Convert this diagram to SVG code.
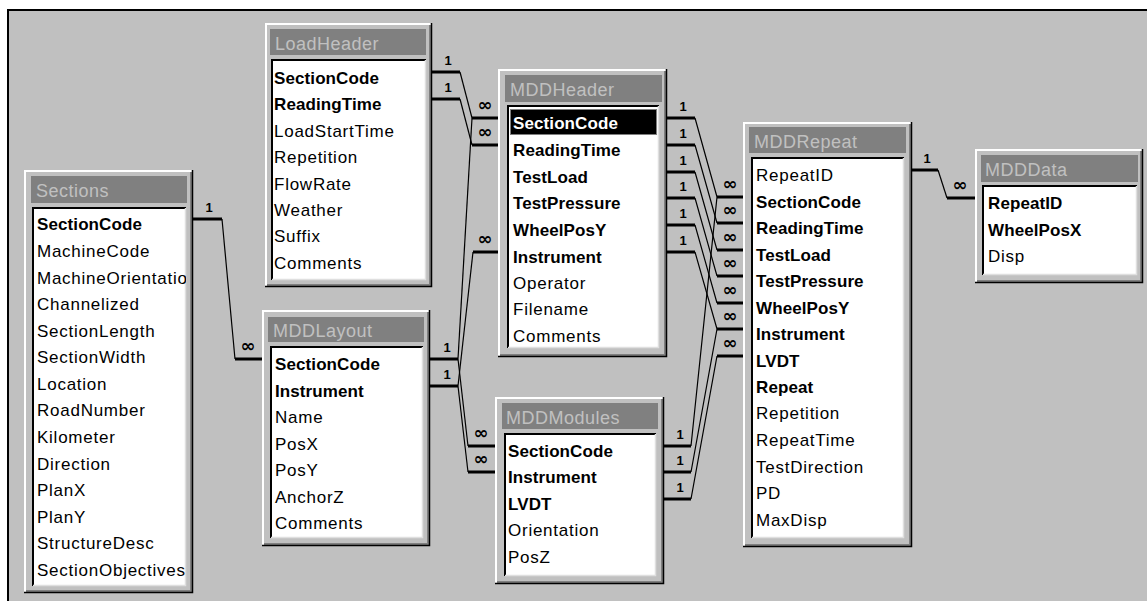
<svg xmlns="http://www.w3.org/2000/svg" width="1147" height="601" viewBox="0 0 1147 601">
<defs>
<style>
.bg{fill:#c0c0c0}
.fr{fill:#c0c0c0}
.hl{fill:none;stroke:#fff;stroke-width:2}
.sh{fill:none;stroke:#808080;stroke-width:2}
.dk{fill:none;stroke:#000;stroke-width:1.5}
.tb{fill:#808080}
.fb{fill:#fff}
.fbt{fill:none;stroke:#000;stroke-width:2}
.fbb{fill:none;stroke:#dfdfdf;stroke-width:1.5}
.ttl{font-family:"Liberation Sans",Arial,sans-serif;font-size:18px;fill:#c0c0c0;letter-spacing:0.5px}
.t{font-family:"Liberation Sans",Arial,sans-serif;font-size:17px;fill:#000;letter-spacing:0.75px}
.b{font-weight:bold;letter-spacing:0.1px}
.w{fill:#fff}
.one{font-family:"Liberation Sans",Arial,sans-serif;font-size:13px;font-weight:bold;text-anchor:middle;fill:#000}
.inf{font-family:"DejaVu Sans",sans-serif;font-size:18px;font-weight:bold;text-anchor:middle;fill:#000}
.stub{fill:none;stroke:#000;stroke-width:3}
.ln{fill:none;stroke:#000;stroke-width:1.2}
</style>
<clipPath id="clipSections"><rect x="33" y="208" width="153" height="378"/></clipPath>
</defs>
<rect x="0" y="0" width="1147" height="601" fill="#fff"/>
<rect x="8" y="10" width="1139" height="591" class="bg"/>
<path d="M8 601 V10 H1147" fill="none" stroke="#000" stroke-width="2"/>

<g id="connectors">
<!-- Sections -> MDDLayout -->
<path class="stub" d="M193 219 H222"/>
<path class="ln" d="M222 219 L235 359"/>
<path class="stub" d="M235 359 H262"/>
<text class="one" x="209" y="212">1</text>
<text class="inf" x="248" y="352">∞</text>
<!-- LoadHeader -> MDDHeader -->
<path class="stub" d="M432 72 H460"/>
<path class="stub" d="M432 99 H460"/>
<path class="ln" d="M460 72 L472 118"/>
<path class="ln" d="M460 99 L472 145"/>
<path class="stub" d="M472 118 H498"/>
<path class="stub" d="M472 145 H498"/>
<text class="one" x="448" y="65">1</text>
<text class="one" x="448" y="92">1</text>
<text class="inf" x="485" y="111">∞</text>
<text class="inf" x="485" y="138">∞</text>
<!-- MDDLayout -> MDDHeader / MDDModules -->
<path class="stub" d="M430 359 H458"/>
<path class="stub" d="M430 386 H458"/>
<text class="one" x="447" y="352">1</text>
<text class="one" x="447" y="379">1</text>
<path class="ln" d="M458 359 L472 118"/>
<path class="ln" d="M458 386 L473 252"/>
<path class="stub" d="M473 252 H498"/>
<text class="inf" x="485" y="245">∞</text>
<path class="ln" d="M458 359 L468 446"/>
<path class="ln" d="M458 386 L468 472"/>
<path class="stub" d="M468 446 H495"/>
<path class="stub" d="M468 472 H495"/>
<text class="inf" x="481" y="439">∞</text>
<text class="inf" x="481" y="465">∞</text>
<!-- MDDHeader -> MDDRepeat -->
<path class="stub" d="M667 118 H695 M667 145 H695 M667 172 H695 M667 198 H695 M667 225 H695 M667 252 H695"/>
<text class="one" x="683" y="111">1</text>
<text class="one" x="683" y="138">1</text>
<text class="one" x="683" y="165">1</text>
<text class="one" x="683" y="191">1</text>
<text class="one" x="683" y="218">1</text>
<text class="one" x="683" y="245">1</text>
<path class="ln" d="M695 118 L717 197 M695 145 L717 223 M695 172 L717 250 M695 198 L717 276 M695 225 L717 303 M695 252 L717 329"/>
<!-- MDDModules -> MDDRepeat -->
<path class="stub" d="M664 446 H691 M664 472 H691 M664 499 H691"/>
<text class="one" x="680" y="439">1</text>
<text class="one" x="680" y="465">1</text>
<text class="one" x="680" y="492">1</text>
<path class="ln" d="M691 446 L717 197 M691 472 L717 329 M691 499 L717 356"/>
<path class="stub" d="M717 197 H743 M717 223 H743 M717 250 H743 M717 276 H743 M717 303 H743 M717 329 H743 M717 356 H743"/>
<text class="inf" x="730" y="190">∞</text>
<text class="inf" x="730" y="216">∞</text>
<text class="inf" x="730" y="243">∞</text>
<text class="inf" x="730" y="269">∞</text>
<text class="inf" x="730" y="296">∞</text>
<text class="inf" x="730" y="322">∞</text>
<text class="inf" x="730" y="349">∞</text>
<!-- MDDRepeat -> MDDData -->
<path class="stub" d="M912 170 H938"/>
<path class="ln" d="M938 170 L947 198"/>
<path class="stub" d="M947 198 H975"/>
<text class="one" x="927" y="163">1</text>
<text class="inf" x="960" y="191">∞</text>
</g>

<g id="Sections">
<rect class="fr" x="24" y="170" width="169" height="423"/>
<path class="hl" d="M25 592 V171 H192"/>
<path class="sh" d="M26 591 H191 V172"/>
<path class="dk" d="M24 592.5 H192.5 V170"/>
<rect class="tb" x="31" y="176" width="156" height="27"/>
<text class="ttl" x="36" y="197">Sections</text>
<rect class="fb" x="32" y="207" width="154" height="379"/>
<path class="fbt" d="M33 586 V208 H186"/>
<path class="fbb" d="M33 585.5 H185.5 V208"/>
<g clip-path="url(#clipSections)">
<text class="t b" x="37" y="230">SectionCode</text>
<text class="t" x="37" y="257">MachineCode</text>
<text class="t" x="37" y="284">MachineOrientation</text>
<text class="t" x="37" y="310">Channelized</text>
<text class="t" x="37" y="337">SectionLength</text>
<text class="t" x="37" y="363">SectionWidth</text>
<text class="t" x="37" y="390">Location</text>
<text class="t" x="37" y="416">RoadNumber</text>
<text class="t" x="37" y="443">Kilometer</text>
<text class="t" x="37" y="470">Direction</text>
<text class="t" x="37" y="496">PlanX</text>
<text class="t" x="37" y="523">PlanY</text>
<text class="t" x="37" y="549">StructureDesc</text>
<text class="t" x="37" y="576">SectionObjectives</text>
</g>
</g>

<g id="LoadHeader">
<rect class="fr" x="265" y="23" width="167" height="264"/>
<path class="hl" d="M266 286 V24 H431"/>
<path class="sh" d="M267 285 H430 V25"/>
<path class="dk" d="M265 286.5 H431.5 V23"/>
<rect class="tb" x="270" y="29" width="156" height="26"/>
<text class="ttl" x="275" y="50">LoadHeader</text>
<rect class="fb" x="271" y="59" width="155" height="221"/>
<path class="fbt" d="M272 280 V60 H426"/>
<path class="fbb" d="M272 279.5 H425.5 V60"/>
<text class="t b" x="274" y="84">SectionCode</text>
<text class="t b" x="274" y="110">ReadingTime</text>
<text class="t" x="274" y="137">LoadStartTime</text>
<text class="t" x="274" y="163">Repetition</text>
<text class="t" x="274" y="190">FlowRate</text>
<text class="t" x="274" y="216">Weather</text>
<text class="t" x="274" y="242">Suffix</text>
<text class="t" x="274" y="269">Comments</text>
</g>

<g id="MDDHeader">
<rect class="fr" x="498" y="69" width="169" height="288"/>
<path class="hl" d="M499 356 V70 H666"/>
<path class="sh" d="M500 355 H665 V71"/>
<path class="dk" d="M498 356.5 H666.5 V69"/>
<rect class="tb" x="505" y="75" width="157" height="27"/>
<text class="ttl" x="510" y="96">MDDHeader</text>
<rect class="fb" x="507" y="105" width="152" height="243"/>
<path class="fbt" d="M508 348 V106 H659"/>
<path class="fbb" d="M508 347.5 H658.5 V106"/>
<rect x="510" y="109" width="147" height="26" fill="#000"/>
<rect x="510.5" y="109.5" width="146" height="25" fill="none" stroke="#fff" stroke-width="1" stroke-dasharray="1 1"/>
<text class="t b w" x="513" y="129">SectionCode</text>
<text class="t b" x="513" y="156">ReadingTime</text>
<text class="t b" x="513" y="183">TestLoad</text>
<text class="t b" x="513" y="209">TestPressure</text>
<text class="t b" x="513" y="236">WheelPosY</text>
<text class="t b" x="513" y="263">Instrument</text>
<text class="t" x="513" y="289">Operator</text>
<text class="t" x="513" y="315">Filename</text>
<text class="t" x="513" y="342">Comments</text>
</g>

<g id="MDDRepeat">
<rect class="fr" x="743" y="122" width="169" height="425"/>
<path class="hl" d="M744 546 V123 H911"/>
<path class="sh" d="M745 545 H910 V124"/>
<path class="dk" d="M743 546.5 H911.5 V122"/>
<rect class="tb" x="749" y="127" width="157" height="26"/>
<text class="ttl" x="754" y="148">MDDRepeat</text>
<rect class="fb" x="751" y="157" width="153" height="381"/>
<path class="fbt" d="M752 538 V158 H904"/>
<path class="fbb" d="M752 537.5 H903.5 V158"/>
<text class="t" x="756" y="181">RepeatID</text>
<text class="t b" x="756" y="208">SectionCode</text>
<text class="t b" x="756" y="234">ReadingTime</text>
<text class="t b" x="756" y="261">TestLoad</text>
<text class="t b" x="756" y="287">TestPressure</text>
<text class="t b" x="756" y="314">WheelPosY</text>
<text class="t b" x="756" y="340">Instrument</text>
<text class="t b" x="756" y="367">LVDT</text>
<text class="t b" x="756" y="393">Repeat</text>
<text class="t" x="756" y="419">Repetition</text>
<text class="t" x="756" y="446">RepeatTime</text>
<text class="t" x="756" y="473">TestDirection</text>
<text class="t" x="756" y="499">PD</text>
<text class="t" x="756" y="526">MaxDisp</text>
</g>

<g id="MDDData">
<rect class="fr" x="975" y="149" width="168" height="134"/>
<path class="hl" d="M976 282 V150 H1142"/>
<path class="sh" d="M977 281 H1141 V151"/>
<path class="dk" d="M975 282.5 H1142.5 V149"/>
<rect class="tb" x="981" y="155" width="157" height="27"/>
<text class="ttl" x="985" y="176">MDDData</text>
<rect class="fb" x="982" y="185" width="155" height="90"/>
<path class="fbt" d="M983 275 V186 H1137"/>
<path class="fbb" d="M983 274.5 H1136.5 V186"/>
<text class="t b" x="988" y="209">RepeatID</text>
<text class="t b" x="988" y="236">WheelPosX</text>
<text class="t" x="988" y="262">Disp</text>
</g>

<g id="MDDLayout">
<rect class="fr" x="262" y="310" width="168" height="236"/>
<path class="hl" d="M263 545 V311 H429"/>
<path class="sh" d="M264 544 H428 V312"/>
<path class="dk" d="M262 545.5 H429.5 V310"/>
<rect class="tb" x="268" y="317" width="156" height="25"/>
<text class="ttl" x="273" y="337">MDDLayout</text>
<rect class="fb" x="270" y="346" width="153" height="192"/>
<path class="fbt" d="M271 538 V347 H423"/>
<path class="fbb" d="M271 537.5 H422.5 V347"/>
<text class="t b" x="275" y="370">SectionCode</text>
<text class="t b" x="275" y="397">Instrument</text>
<text class="t" x="275" y="423">Name</text>
<text class="t" x="275" y="450">PosX</text>
<text class="t" x="275" y="476">PosY</text>
<text class="t" x="275" y="503">AnchorZ</text>
<text class="t" x="275" y="529">Comments</text>
</g>

<g id="MDDModules">
<rect class="fr" x="495" y="397" width="169" height="187"/>
<path class="hl" d="M496 583 V398 H663"/>
<path class="sh" d="M497 582 H662 V399"/>
<path class="dk" d="M495 583.5 H663.5 V397"/>
<rect class="tb" x="502" y="403" width="156" height="26"/>
<text class="ttl" x="506" y="424">MDDModules</text>
<rect class="fb" x="504" y="433" width="152" height="143"/>
<path class="fbt" d="M505 576 V434 H656"/>
<path class="fbb" d="M505 575.5 H655.5 V434"/>
<text class="t b" x="508" y="457">SectionCode</text>
<text class="t b" x="508" y="483">Instrument</text>
<text class="t b" x="508" y="510">LVDT</text>
<text class="t" x="508" y="536">Orientation</text>
<text class="t" x="508" y="563">PosZ</text>
</g>
</svg>
